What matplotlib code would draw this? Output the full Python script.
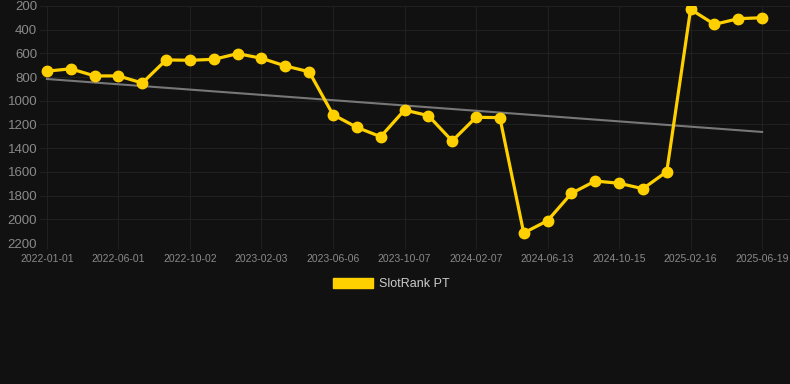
import numpy as np
import matplotlib
matplotlib.use("Agg")
import matplotlib.pyplot as plt
from matplotlib.patches import Patch

# rank per period (lower is better, y axis inverted)
ranks = [750, 730, 790, 790, 850, 655, 658, 650, 602, 641, 706, 755,
         1117, 1224, 1303, 1078, 1125, 1339, 1139, 1142, 2115, 2012,
         1781, 1677, 1696, 1742, 1598, 228, 355, 307, 299]
tick_labels = ["2022-01-01", "2022-06-01", "2022-10-02", "2023-02-03",
               "2023-06-06", "2023-10-07", "2024-02-07", "2024-06-13",
               "2024-10-15", "2025-02-16", "2025-06-19"]
trend_ends = [816, 1263]

bg = "#111111"
gold = "#FFD000"
txt = "#8a8a8a"
grid_c = "#202020"

fig = plt.figure(figsize=(7.9, 3.84), dpi=100, facecolor=bg)
ax = fig.add_axes([40 / 790, (384 - 243) / 384, 750 / 790, 237 / 384])
ax.set_facecolor(bg)

x = np.arange(len(ranks))
ax.plot([x[0], x[-1]], trend_ends, color="#777777", lw=1.5, zorder=2)
ax.plot(x, ranks, color=gold, lw=2.3, marker="o", ms=7.5, zorder=3)

ax.set_ylim(2200, 200)
ax.set_yticks(range(200, 2201, 200))
ax.set_xlim(-0.29, 31.17)
ax.set_xticks(x[::3])
ax.set_xticklabels(tick_labels)

ax.grid(True, color=grid_c, lw=0.8)
for s in ax.spines.values():
    s.set_visible(False)
ax.axhline(2200, color="#2a2a2a", lw=0.8)
ax.tick_params(axis="y", colors=txt, labelsize=9.5, length=0, pad=2)
ax.tick_params(axis="x", colors=txt, labelsize=7.5, length=4, pad=4, color=grid_c)
for lab in ax.get_xticklabels() + ax.get_yticklabels():
    lab.set_fontfamily("Liberation Sans")

fig.legend(handles=[Patch(facecolor=gold, edgecolor=gold, label="SlotRank PT")],
           loc="center", bbox_to_anchor=(391 / 790, 1 - 284 / 384),
           frameon=False, handlelength=3.2, handleheight=0.9, handletextpad=0.5,
           prop={"family": "Liberation Sans", "size": 9},
           labelcolor="#cccccc")

fig.savefig("out.png", dpi=100, facecolor=bg)
